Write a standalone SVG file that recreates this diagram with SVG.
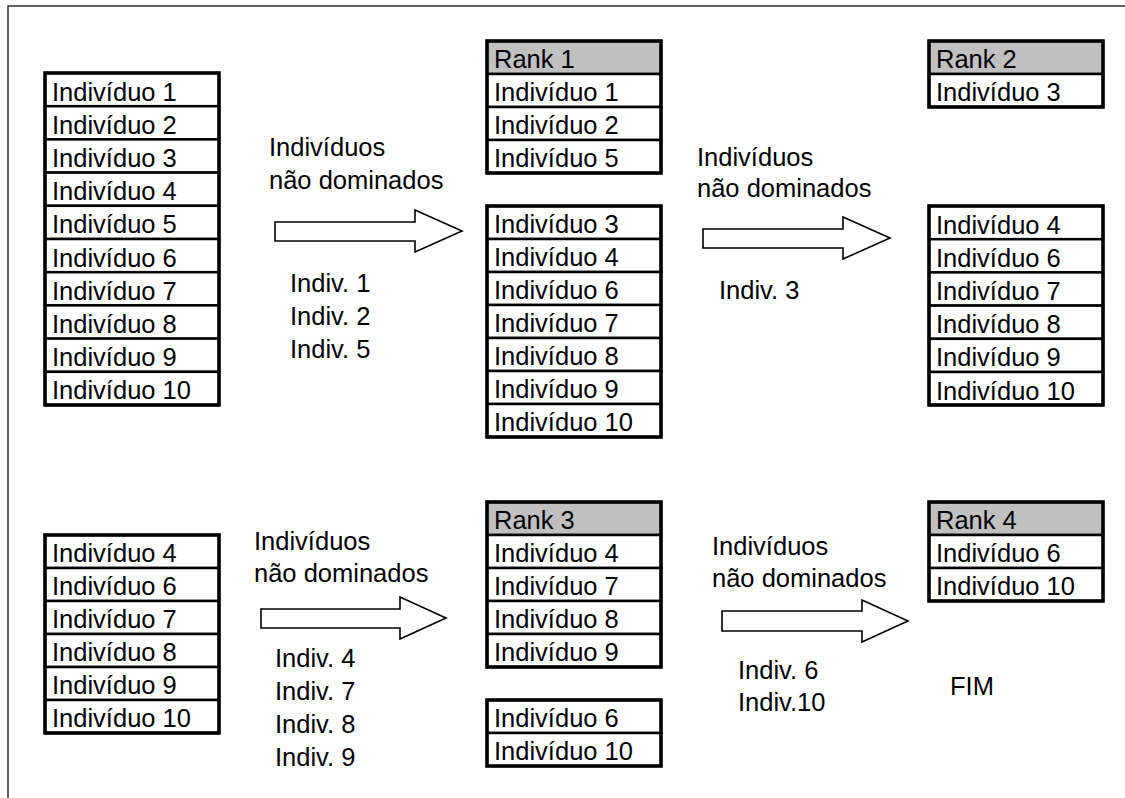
<svg xmlns="http://www.w3.org/2000/svg" width="1125" height="798" viewBox="0 0 1125 798">
  <style>
    text { font-family: "Liberation Sans", Arial, sans-serif; font-size: 25.5px; fill: #000; }
    .cell { fill: #fff; stroke: #000; stroke-width: 2.5; }
    .head { fill: #c0c0c0; stroke: #000; stroke-width: 2.5; }
    .frame { fill: none; stroke: #000; stroke-width: 3.5; }
    .arrow { fill: #fff; stroke: #000; stroke-width: 1.6; stroke-linejoin: miter; }
    .border { fill: none; stroke: #333; stroke-width: 1.5; }
  </style>

  <rect width="1125" height="798" fill="#fff"/>
  <!-- page border (top and left edges) -->
  <path class="border" d="M8,798 V6 H1125"/>

  <!-- all individuals -->
  <g id="list-all">
    <rect class="cell" x="45" y="73" width="174" height="33.2"/><text x="52" y="100.5">Indivíduo 1</text>
    <rect class="cell" x="45" y="106.2" width="174" height="33.2"/><text x="52" y="133.7">Indivíduo 2</text>
    <rect class="cell" x="45" y="139.4" width="174" height="33.2"/><text x="52" y="166.9">Indivíduo 3</text>
    <rect class="cell" x="45" y="172.6" width="174" height="33.2"/><text x="52" y="200.1">Indivíduo 4</text>
    <rect class="cell" x="45" y="205.8" width="174" height="33.2"/><text x="52" y="233.3">Indivíduo 5</text>
    <rect class="cell" x="45" y="239" width="174" height="33.2"/><text x="52" y="266.5">Indivíduo 6</text>
    <rect class="cell" x="45" y="272.2" width="174" height="33.2"/><text x="52" y="299.7">Indivíduo 7</text>
    <rect class="cell" x="45" y="305.4" width="174" height="33.2"/><text x="52" y="332.9">Indivíduo 8</text>
    <rect class="cell" x="45" y="338.6" width="174" height="33.2"/><text x="52" y="366.1">Indivíduo 9</text>
    <rect class="cell" x="45" y="371.8" width="174" height="33.2"/><text x="52" y="399.3">Indivíduo 10</text>
    <rect class="frame" x="45" y="73" width="174" height="332"/>
  </g>

  <!-- rank 1 -->
  <g id="rank-1">
    <rect class="head" x="487" y="41" width="174" height="33"/><text x="494" y="68">Rank 1</text>
    <rect class="cell" x="487" y="74" width="174" height="33"/><text x="494" y="101">Indivíduo 1</text>
    <rect class="cell" x="487" y="107" width="174" height="33"/><text x="494" y="134">Indivíduo 2</text>
    <rect class="cell" x="487" y="140" width="174" height="33"/><text x="494" y="167">Indivíduo 5</text>
    <rect class="frame" x="487" y="41" width="174" height="132"/>
  </g>

  <!-- remaining after rank 1 -->
  <g id="rest-1">
    <rect class="cell" x="487" y="206" width="174" height="33"/><text x="494" y="233">Indivíduo 3</text>
    <rect class="cell" x="487" y="239" width="174" height="33"/><text x="494" y="266">Indivíduo 4</text>
    <rect class="cell" x="487" y="272" width="174" height="33"/><text x="494" y="299">Indivíduo 6</text>
    <rect class="cell" x="487" y="305" width="174" height="33"/><text x="494" y="332">Indivíduo 7</text>
    <rect class="cell" x="487" y="338" width="174" height="33"/><text x="494" y="365">Indivíduo 8</text>
    <rect class="cell" x="487" y="371" width="174" height="33"/><text x="494" y="398">Indivíduo 9</text>
    <rect class="cell" x="487" y="404" width="174" height="33"/><text x="494" y="431">Indivíduo 10</text>
    <rect class="frame" x="487" y="206" width="174" height="231"/>
  </g>

  <!-- rank 2 -->
  <g id="rank-2">
    <rect class="head" x="929" y="41" width="174" height="33"/><text x="936" y="68">Rank 2</text>
    <rect class="cell" x="929" y="74" width="174" height="33"/><text x="936" y="101">Indivíduo 3</text>
    <rect class="frame" x="929" y="41" width="174" height="66"/>
  </g>

  <!-- remaining after rank 2 -->
  <g id="rest-2">
    <rect class="cell" x="929" y="206" width="174" height="33.2"/><text x="936" y="233.5">Indivíduo 4</text>
    <rect class="cell" x="929" y="239.2" width="174" height="33.2"/><text x="936" y="266.7">Indivíduo 6</text>
    <rect class="cell" x="929" y="272.4" width="174" height="33.2"/><text x="936" y="299.9">Indivíduo 7</text>
    <rect class="cell" x="929" y="305.6" width="174" height="33.2"/><text x="936" y="333.1">Indivíduo 8</text>
    <rect class="cell" x="929" y="338.8" width="174" height="33.2"/><text x="936" y="366.3">Indivíduo 9</text>
    <rect class="cell" x="929" y="372" width="174" height="33"/><text x="936" y="399.5">Indivíduo 10</text>
    <rect class="frame" x="929" y="206" width="174" height="199"/>
  </g>

  <!-- second pass input -->
  <g id="list-rest">
    <rect class="cell" x="45" y="535" width="174" height="33"/><text x="52" y="562">Indivíduo 4</text>
    <rect class="cell" x="45" y="568" width="174" height="33"/><text x="52" y="595">Indivíduo 6</text>
    <rect class="cell" x="45" y="601" width="174" height="33"/><text x="52" y="628">Indivíduo 7</text>
    <rect class="cell" x="45" y="634" width="174" height="33"/><text x="52" y="661">Indivíduo 8</text>
    <rect class="cell" x="45" y="667" width="174" height="33"/><text x="52" y="694">Indivíduo 9</text>
    <rect class="cell" x="45" y="700" width="174" height="33"/><text x="52" y="727">Indivíduo 10</text>
    <rect class="frame" x="45" y="535" width="174" height="198"/>
  </g>

  <!-- rank 3 -->
  <g id="rank-3">
    <rect class="head" x="487" y="502" width="174" height="33"/><text x="494" y="529">Rank 3</text>
    <rect class="cell" x="487" y="535" width="174" height="33"/><text x="494" y="562">Indivíduo 4</text>
    <rect class="cell" x="487" y="568" width="174" height="33"/><text x="494" y="595">Indivíduo 7</text>
    <rect class="cell" x="487" y="601" width="174" height="33"/><text x="494" y="628">Indivíduo 8</text>
    <rect class="cell" x="487" y="634" width="174" height="33"/><text x="494" y="661">Indivíduo 9</text>
    <rect class="frame" x="487" y="502" width="174" height="165"/>
  </g>

  <!-- remaining after rank 3 -->
  <g id="rest-3">
    <rect class="cell" x="487" y="700" width="174" height="33"/><text x="494" y="727">Indivíduo 6</text>
    <rect class="cell" x="487" y="733" width="174" height="33"/><text x="494" y="760">Indivíduo 10</text>
    <rect class="frame" x="487" y="700" width="174" height="66"/>
  </g>

  <!-- rank 4 -->
  <g id="rank-4">
    <rect class="head" x="929" y="502" width="174" height="33"/><text x="936" y="529">Rank 4</text>
    <rect class="cell" x="929" y="535" width="174" height="33"/><text x="936" y="562">Indivíduo 6</text>
    <rect class="cell" x="929" y="568" width="174" height="33"/><text x="936" y="595">Indivíduo 10</text>
    <rect class="frame" x="929" y="502" width="174" height="99"/>
  </g>

  <!-- block arrows -->
  <g id="connectors">
    <polygon class="arrow" points="275,222 415,222 415,210 462,231 415,252 415,241 275,241"/>
    <polygon class="arrow" points="703,229 843,229 843,217 890,238 843,259 843,248 703,248"/>
    <polygon class="arrow" points="261,609 400,609 400,597 446,618 400,639 400,628 261,628"/>
    <polygon class="arrow" points="722,611 862,611 862,600 908,621 862,642 862,631 722,631"/>
  </g>

  <!-- step labels -->
  <g id="label-1">
    <text x="269" y="156">Indivíduos</text>
    <text x="269" y="189">não dominados</text>
    <text x="290" y="292">Indiv. 1</text>
    <text x="290" y="325">Indiv. 2</text>
    <text x="290" y="358">Indiv. 5</text>
  </g>
  <g id="label-2">
    <text x="697" y="166">Indivíduos</text>
    <text x="697" y="197">não dominados</text>
    <text x="719" y="299">Indiv. 3</text>
  </g>
  <g id="label-3">
    <text x="254" y="550">Indivíduos</text>
    <text x="254" y="582">não dominados</text>
    <text x="275" y="667">Indiv. 4</text>
    <text x="275" y="700">Indiv. 7</text>
    <text x="275" y="733">Indiv. 8</text>
    <text x="275" y="766">Indiv. 9</text>
  </g>
  <g id="label-4">
    <text x="712" y="555">Indivíduos</text>
    <text x="712" y="587">não dominados</text>
    <text x="738" y="679">Indiv. 6</text>
    <text x="738" y="711">Indiv.10</text>
  </g>
  <g id="end">
    <text x="950" y="695">FIM</text>
  </g>
</svg>
